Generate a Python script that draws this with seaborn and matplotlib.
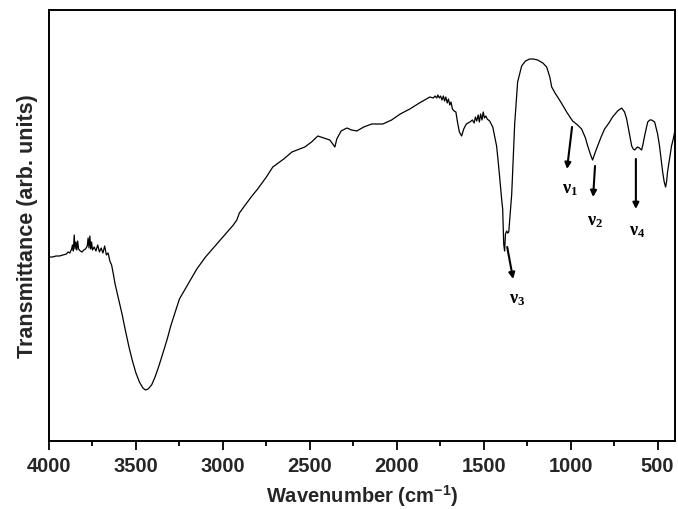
import matplotlib
matplotlib.use("Agg")
import matplotlib.pyplot as plt
import seaborn as sns
import pandas as pd

wavenumber = [4000, 3980, 3960, 3940, 3920, 3900, 3890, 3880, 3870, 3865, 3860, 3855, 3850, 3845, 3840,
              3835, 3830, 3820, 3810, 3800, 3790, 3780, 3775, 3770, 3765, 3760, 3755, 3750, 3740, 3730,
              3720, 3710, 3700, 3690, 3680, 3670, 3660, 3650, 3640, 3630, 3620, 3600, 3580, 3560, 3540,
              3520, 3500, 3480, 3460, 3445, 3430, 3410, 3390, 3370, 3350, 3320, 3300, 3270, 3250, 3200,
              3150, 3100, 3050, 3000, 2960, 2940, 2920, 2905, 2880, 2833, 2800, 2750, 2713, 2650, 2603,
              2529, 2490, 2454, 2420, 2385, 2368, 2356, 2345, 2320, 2287, 2260, 2230, 2190, 2144, 2080,
              2030, 1980, 1925, 1870, 1830, 1810, 1790, 1780, 1770, 1764, 1755, 1748, 1740, 1732, 1725,
              1718, 1710, 1703, 1695, 1688, 1680, 1670, 1660, 1652, 1640, 1627, 1615, 1600, 1580, 1565,
              1555, 1548, 1540, 1532, 1525, 1518, 1510, 1503, 1496, 1488, 1480, 1466, 1448, 1426, 1420,
              1410, 1397, 1391, 1385, 1380, 1375, 1368, 1362, 1356, 1339, 1322, 1305, 1282, 1260, 1236,
              1215, 1190, 1160, 1138, 1120, 1109, 1090, 1075, 1050, 1023, 989, 960, 937, 915, 902,
              885, 874, 860, 845, 825, 805, 780, 759, 730, 707, 690, 678, 660, 649, 640,
              632, 622, 615, 605, 592, 585, 575, 557, 545, 534, 517, 500, 489, 480, 471,
              462, 454, 448, 443, 430, 420, 410, 402]

transmittance = [184, 184, 185, 185, 186, 187, 189, 188, 192, 196, 190, 206, 192, 199, 191,
                 200, 192, 190, 189, 191, 192, 195, 203, 193, 205, 192, 199, 191, 194, 190,
                 196, 189, 193, 188, 195, 186, 188, 180, 176, 167, 157, 142, 127, 110, 94,
                 80, 68, 59, 53, 51, 52, 56, 64, 74, 85, 102, 115, 131, 142, 157,
                 172, 184, 194, 204, 212, 216, 221, 228, 234, 245, 252, 264, 274, 282, 289,
                 294, 299, 305, 303, 301, 297, 294, 302, 310, 313, 311, 310, 314, 317, 317,
                 321, 327, 332, 338, 342, 344, 343, 345, 343, 346, 343, 345, 341, 345, 340,
                 344, 338, 342, 336, 339, 332, 330, 329, 320, 309, 305, 312, 317, 319, 321,
                 318, 324, 320, 326, 319, 327, 321, 329, 323, 325, 322, 320, 314, 295, 285,
                 267, 242, 232, 197, 190, 207, 210, 208, 209, 247, 317, 359, 375, 380, 382,
                 382, 381, 378, 374, 364, 354, 348, 344, 337, 329, 320, 316, 312, 303, 295,
                 286, 281, 288, 295, 304, 312, 318, 324, 330, 333, 329, 322, 305, 295, 292,
                 291, 293, 294, 293, 291, 296, 305, 319, 321, 321, 319, 307, 295, 282, 269,
                 259, 254, 260, 269, 284, 295, 302, 309]

# band labels: (text, arrow tail (wn, T), arrow head (wn, T), label position (wn, T))
band_names = [r"$\mathbf{\nu}_\mathbf{1}$", r"$\mathbf{\nu}_\mathbf{2}$",
              r"$\mathbf{\nu}_\mathbf{3}$", r"$\mathbf{\nu}_\mathbf{4}$"]
arrow_tail = [(992, 314), (860, 275), (1365, 194), (625, 282)]
arrow_head = [(1021, 272), (871, 244), (1331, 162), (625, 232)]
label_pos = [(1003, 252), (863, 220), (1308, 142), (619, 210)]

sns.set_theme(style="white")
plt.rcParams["font.family"] = ["Liberation Sans", "DejaVu Sans"]
plt.rcParams["mathtext.fontset"] = "custom"
plt.rcParams["mathtext.rm"] = "Liberation Serif"
plt.rcParams["mathtext.bf"] = "Liberation Serif:bold"
plt.rcParams["mathtext.it"] = "Liberation Serif:italic"
plt.rcParams["mathtext.sf"] = "Liberation Sans:bold"

fig = plt.figure(figsize=(6.78, 5.10), dpi=100)
ax = fig.add_axes([49 / 678, 68 / 510, 626 / 678, 431 / 510])

df = pd.DataFrame({"wn": wavenumber, "T": transmittance})
sns.lineplot(data=df, x="wn", y="T", ax=ax, color="black", linewidth=0.9, sort=False)

ax.set_xlim(4000, 400)
ax.set_ylim(0, 431)
ax.set_xticks([4000, 3500, 3000, 2500, 2000, 1500, 1000, 500])
ax.set_xticks([3750, 3250, 2750, 2250, 1750, 1250, 750], minor=True)
ax.set_yticks([])
ax.tick_params(axis="x", which="major", direction="out", length=6.5, width=1.3,
               bottom=True, labelsize=14.5, pad=4, color="black")
ax.tick_params(axis="x", which="minor", direction="out", length=3.6, width=1.3,
               bottom=True, color="black")
for lab in ax.get_xticklabels():
    lab.set_fontweight("bold")
for sp in ax.spines.values():
    sp.set_visible(True)
    sp.set_color("black")
    sp.set_linewidth(1.4)

ax.set_xlabel("Wavenumber (cm$^{\\mathsf{-1}}$)", fontsize=14.5, fontweight="bold", labelpad=6)
ax.set_ylabel("Transmittance (arb. units)", fontsize=15.5, fontweight="bold", labelpad=8)

for name, tail, head, pos in zip(band_names, arrow_tail, arrow_head, label_pos):
    ax.annotate("", xy=head, xytext=tail,
                arrowprops=dict(arrowstyle="-|>", color="black", lw=1.5, mutation_scale=9,
                                shrinkA=0, shrinkB=0))
    ax.text(pos[0], pos[1], name, ha="center", va="center", fontsize=13, color="black")

fig.savefig("out.png", dpi=100)
